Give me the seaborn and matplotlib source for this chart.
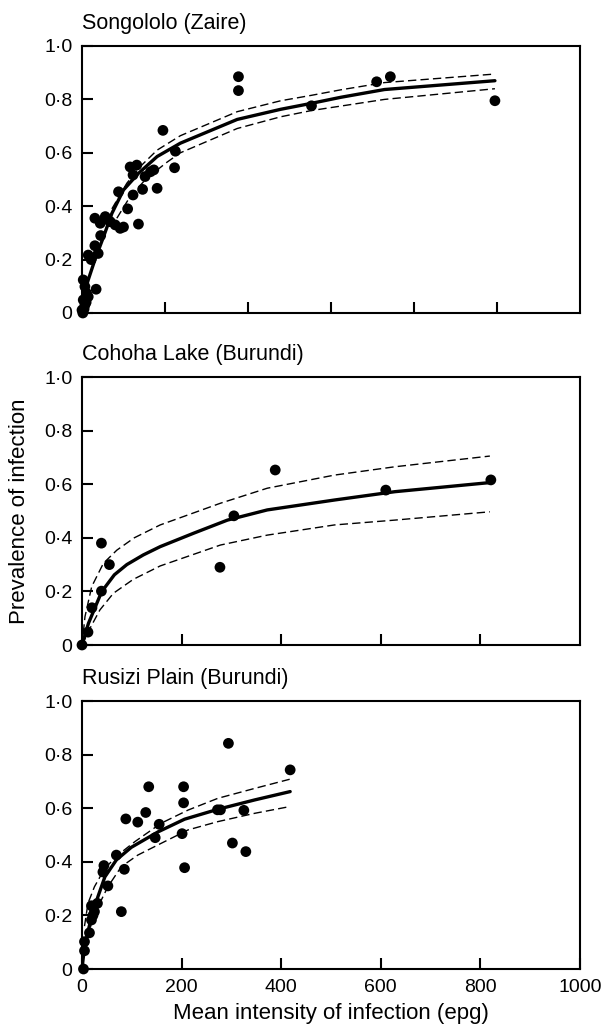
import matplotlib
matplotlib.use("Agg")
import matplotlib.pyplot as plt
import seaborn as sns

sns.set_theme(style="white")
plt.rcParams['font.family'] = ['Liberation Sans', 'DejaVu Sans']

panel_titles = ["Songololo (Zaire)", "Cohoha Lake (Burundi)", "Rusizi Plain (Burundi)"]
y_ticks = [0, 0.2, 0.4, 0.6, 0.8, 1.0]
y_tick_labels = ["0", "0·2", "0·4", "0·6", "0·8", "1·0"]
x_ticks = [0, 200, 400, 600, 800, 1000]
x_tick_labels = ["0", "200", "400", "600", "800", "1000"]
x_label = "Mean intensity of infection (epg)"
y_label = "Prevalence of infection"

# --- Songololo (Zaire) ---
song_x = [995, 743, 710, 377, 377, 553, 195, 225, 223, 181,
          116, 132, 123, 152, 165, 173, 146, 88, 123, 110, 136,
          31, 56, 68, 80, 92, 44, 62, 100,
          31, 15, 39, 22, 45,
          34, 7, 11, 3, 7, 0, 15, 3, 5, 2, 10]
song_y = [0.795, 0.885, 0.866, 0.885, 0.833, 0.776, 0.684, 0.606, 0.544, 0.467,
          0.547, 0.554, 0.517, 0.511, 0.529, 0.536, 0.463, 0.454, 0.442, 0.390, 0.333,
          0.355, 0.361, 0.342, 0.330, 0.317, 0.336, 0.350, 0.322,
          0.252, 0.217, 0.223, 0.200, 0.290,
          0.089, 0.099, 0.074, 0.049, 0.030, 0.011, 0.061, 0.124, 0.015, 0.0, 0.040]
song_fit_x = [0, 3, 15, 31, 52, 72, 100, 136, 181, 237, 374, 479, 552, 624, 729, 995]
song_fit_y = [0, 0.061, 0.124, 0.199, 0.286, 0.373, 0.461, 0.523, 0.586, 0.636,
              0.725, 0.763, 0.785, 0.808, 0.837, 0.870]
song_up_x = [72, 108, 140, 181, 237, 374, 479, 552, 624, 729, 995]
song_up_y = [0.390, 0.486, 0.548, 0.610, 0.664, 0.754, 0.795, 0.815, 0.836, 0.863, 0.895]
song_lo_x = [84, 116, 156, 205, 237, 374, 479, 552, 729, 995]
song_lo_y = [0.355, 0.436, 0.505, 0.565, 0.600, 0.691, 0.735, 0.758, 0.800, 0.840]

# --- Cohoha Lake (Burundi) ---
coh_x = [0, 12, 20, 39, 39, 55, 277, 305, 388, 610, 821]
coh_y = [0.0, 0.048, 0.139, 0.201, 0.380, 0.300, 0.290, 0.482, 0.653, 0.578, 0.616]
coh_fit_x = [0, 13, 39.5, 65, 90, 123, 157, 224, 292, 372, 507, 628, 819]
coh_fit_y = [0, 0.081, 0.199, 0.262, 0.300, 0.336, 0.367, 0.417, 0.466, 0.504, 0.541, 0.572, 0.606]
coh_up_x = [0, 6, 19.5, 43, 70, 105, 157, 278, 372, 507, 628, 819]
coh_up_y = [0, 0.106, 0.218, 0.305, 0.354, 0.400, 0.448, 0.529, 0.585, 0.634, 0.665, 0.705]
coh_lo_x = [0, 16, 36, 63, 103, 157, 278, 372, 507, 628, 819]
coh_lo_y = [0, 0.062, 0.131, 0.193, 0.245, 0.295, 0.373, 0.410, 0.448, 0.466, 0.497]

# --- Rusizi Plain (Burundi) ---
rus_x = [418, 134, 204, 204, 128, 112, 88, 155, 147, 201, 206, 272, 278, 325, 302, 329,
         294, 69, 44, 42, 85, 52, 79, 19, 31, 25, 22, 19, 15, 5, 5, 3]
rus_y = [0.743, 0.680, 0.680, 0.620, 0.584, 0.548, 0.560, 0.540, 0.490, 0.505, 0.378,
         0.594, 0.594, 0.592, 0.470, 0.438, 0.842, 0.425, 0.386, 0.362, 0.372, 0.310,
         0.214, 0.236, 0.245, 0.214, 0.200, 0.183, 0.135, 0.102, 0.068, 0.0]
rus_fit_x = [0, 5, 19, 32, 46, 69, 99, 153, 206, 273, 347, 418]
rus_fit_y = [0, 0.083, 0.195, 0.270, 0.344, 0.407, 0.454, 0.512, 0.559, 0.596, 0.631, 0.662]
rus_up_x = [5, 12, 25, 46, 72, 106, 159, 213, 273, 347, 417]
rus_up_y = [0.160, 0.245, 0.307, 0.376, 0.425, 0.475, 0.544, 0.593, 0.637, 0.674, 0.708]
rus_lo_x = [10, 19, 32, 52, 79, 112, 159, 213, 273, 347, 417]
rus_lo_y = [0.110, 0.170, 0.232, 0.307, 0.382, 0.425, 0.469, 0.519, 0.550, 0.581, 0.606]

panels = [
    (song_x, song_y, song_fit_x, song_fit_y, song_up_x, song_up_y, song_lo_x, song_lo_y, 1200),
    (coh_x, coh_y, coh_fit_x, coh_fit_y, coh_up_x, coh_up_y, coh_lo_x, coh_lo_y, 1000),
    (rus_x, rus_y, rus_fit_x, rus_fit_y, rus_up_x, rus_up_y, rus_lo_x, rus_lo_y, 1000),
]

W, H = 616, 1031
fig = plt.figure(figsize=(W / 100, H / 100), dpi=100)
fig.patch.set_facecolor("white")

left_px, right_px = 82, 580
tops_px = [46, 377, 701]
bottoms_px = [313, 645, 969]

axes = []
for i, (px, py, fx, fy, ux, uy, lx, ly, xmax) in enumerate(panels):
    ax = fig.add_axes([left_px / W, 1 - bottoms_px[i] / H,
                       (right_px - left_px) / W, (bottoms_px[i] - tops_px[i]) / H])
    ax.set_facecolor("white")
    sns.lineplot(x=fx, y=fy, ax=ax, color="black", lw=2.4, estimator=None, sort=False)
    sns.lineplot(x=ux, y=uy, ax=ax, color="black", lw=1.0, linestyle=(0, (6, 3)),
                 estimator=None, sort=False)
    sns.lineplot(x=lx, y=ly, ax=ax, color="black", lw=1.0, linestyle=(0, (6, 3)),
                 estimator=None, sort=False)
    sns.scatterplot(x=px, y=py, ax=ax, color="black", s=60, edgecolor="none",
                    linewidth=0, zorder=4, clip_on=False)
    ax.set_xlim(0, xmax)
    ax.set_ylim(0, 1.0)
    ax.set_yticks(y_ticks)
    ax.set_yticklabels(y_tick_labels)
    if i < 2:
        ax.set_xticks([t for t in x_ticks if 0 < t < xmax])
        ax.set_xticklabels([])
    else:
        ax.set_xticks(x_ticks)
        ax.set_xticklabels(x_tick_labels)
    ax.tick_params(axis="both", direction="in", length=8, width=1.5, colors="black",
                   labelsize=14, pad=7, left=True, bottom=True, top=False, right=False)
    for sp in ax.spines.values():
        sp.set_visible(True)
        sp.set_color("black")
        sp.set_linewidth(1.5)
    ax.set_title(panel_titles[i], loc="left", fontsize=15.5, pad=12, color="black")
    ax.set_xlabel("")
    ax.set_ylabel("")
    axes.append(ax)

axes[1].set_ylabel(y_label, fontsize=16, labelpad=10, color="black")
axes[2].set_xlabel(x_label, fontsize=16, labelpad=5, color="black")

fig.savefig("out.png", dpi=100, facecolor="white")
